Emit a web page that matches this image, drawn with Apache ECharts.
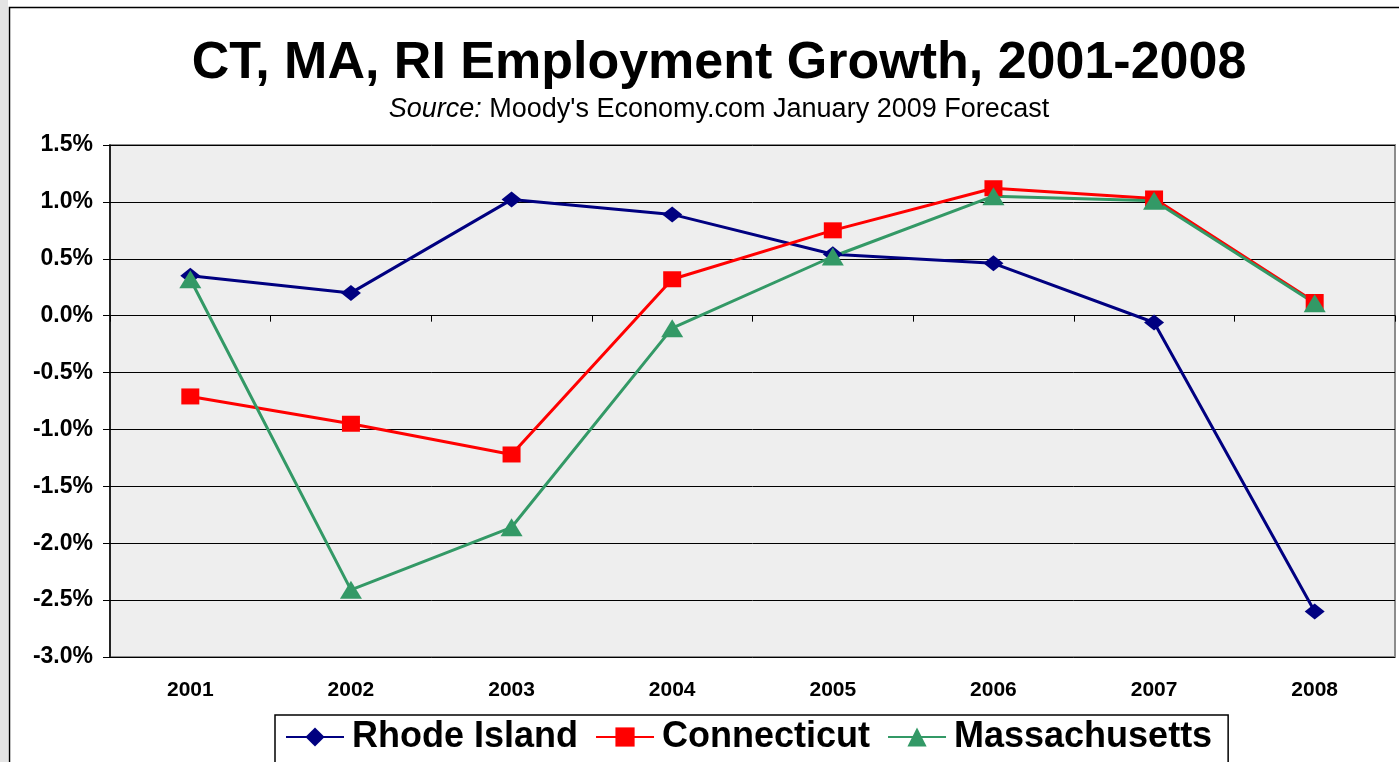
<!DOCTYPE html>
<html><head><meta charset="utf-8">
<script src="https://cdn.jsdelivr.net/npm/echarts@6/dist/echarts.min.js"></script>
<style>html,body{margin:0;padding:0;background:#fff}#c{width:1399px;height:762px}</style>
</head><body><div id="c"></div>
<script>
const categories = ['2001','2002','2003','2004','2005','2006','2007','2008'];
const rhodeIsland = [0.35, 0.20, 1.02, 0.89, 0.54, 0.46, -0.06, -2.60];
const connecticut = [-0.71, -0.95, -1.22, 0.32, 0.75, 1.12, 1.03, 0.12];
const massachusetts = [0.32, -2.41, -1.86, -0.11, 0.52, 1.05, 1.01, 0.11];
const yTicks = { min: -3.0, max: 1.5, interval: 0.5 };

const chart = echarts.init(document.getElementById('c'));
const F = 'Arial, "Liberation Sans", sans-serif';
chart.setOption({
  animation: false,
  backgroundColor: '#fff',
  graphic: [
    { type: 'rect', shape: { x: 0, y: 0, width: 8, height: 762 }, style: { fill: '#e4e4e4' }, z: -1 },
    { type: 'rect', shape: { x: 9.5, y: 7.5, width: 1400, height: 780 }, style: { fill: 'none', stroke: '#000', lineWidth: 1.5 }, z: -1 }
  ],
  title: [
    {
      text: 'CT, MA, RI Employment Growth, 2001-2008',
      left: 714, textAlign: 'center', top: 33,
      textStyle: { fontFamily: F, fontWeight: 'bold', fontSize: 52, color: '#000' }
    },
    {
      text: '{i|Source:} {n|Moody\'s Economy.com January 2009 Forecast}',
      left: 714, textAlign: 'center', top: 91,
      textStyle: {
        fontFamily: F, fontSize: 27, fontWeight: 'normal', color: '#000',
        rich: {
          i: { fontFamily: F, fontSize: 27, fontStyle: 'italic', color: '#000' },
          n: { fontFamily: F, fontSize: 27, color: '#000' }
        }
      }
    }
  ],
  legend: {
    left: 275, top: 715,
    padding: [4, 16, 14, 10],
    itemGap: 17,
    itemWidth: 58, itemHeight: 24,
    backgroundColor: '#fff',
    borderColor: '#000', borderWidth: 1.5,
    textStyle: { fontFamily: F, fontWeight: 'bold', fontSize: 36, color: '#000', padding: [0, 0, 0, 3] },
    data: ['Rhode Island', 'Connecticut', 'Massachusetts']
  },
  grid: {
    left: 110, top: 145, right: 4, bottom: 105,
    show: true, backgroundColor: '#eeeeee', borderColor: '#8c8c8c', borderWidth: 2
  },
  xAxis: [
    {
      type: 'category', data: categories, boundaryGap: true,
      axisLine: { onZero: true, lineStyle: { color: '#000', width: 1.2 } },
      axisTick: { show: true, inside: false, length: 6, lineStyle: { color: '#000' } },
      axisLabel: { show: false },
      splitLine: { show: false }
    },
    {
      type: 'category', data: categories, position: 'bottom', boundaryGap: true,
      axisLine: { show: false, onZero: false },
      axisTick: { show: false },
      axisLabel: { show: true, margin: 23, fontFamily: F, fontWeight: 'bold', fontSize: 21, color: '#000' },
      splitLine: { show: false }
    }
  ],
  yAxis: {
    type: 'value', min: yTicks.min, max: yTicks.max, interval: yTicks.interval,
    axisLine: { show: true, onZero: false, lineStyle: { color: '#000', width: 1.5 } },
    axisTick: { show: true, length: 7, lineStyle: { color: '#000' } },
    axisLabel: {
      margin: 17, fontFamily: F, fontWeight: 'bold', fontSize: 23, color: '#000',
      formatter: v => v.toFixed(1) + '%'
    },
    splitLine: { show: true, lineStyle: { color: '#000', width: 1 } }
  },
  series: [
    {
      name: 'Rhode Island', type: 'line', data: rhodeIsland, xAxisIndex: 0,
      symbol: 'diamond', symbolSize: [20, 16],
      lineStyle: { color: '#000080', width: 3 }, itemStyle: { color: '#000080' }
    },
    {
      name: 'Connecticut', type: 'line', data: connecticut, xAxisIndex: 0,
      symbol: 'rect', symbolSize: [18, 16],
      lineStyle: { color: '#ff0000', width: 3 }, itemStyle: { color: '#ff0000' }
    },
    {
      name: 'Massachusetts', type: 'line', data: massachusetts, xAxisIndex: 0,
      symbol: 'triangle', symbolSize: [22, 18],
      lineStyle: { color: '#339966', width: 3 }, itemStyle: { color: '#339966' }
    }
  ]
});
</script></body></html>
